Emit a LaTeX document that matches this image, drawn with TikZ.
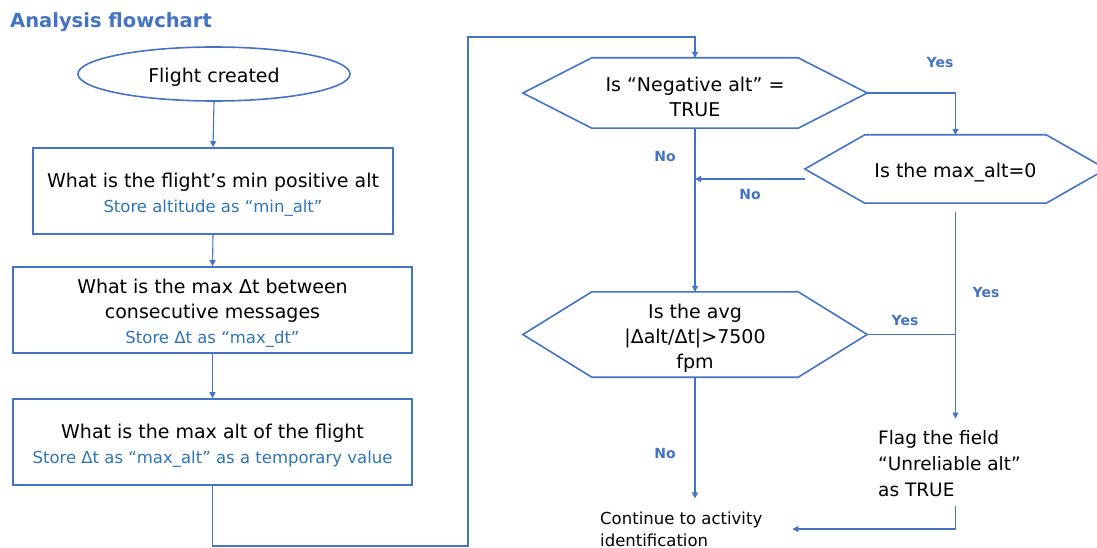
\documentclass[tikz,border=0pt]{standalone}
\usepackage{fontspec}
\setmainfont{DejaVu Sans}
\usetikzlibrary{arrows.meta,shapes.geometric}
\definecolor{lineblue}{RGB}{68,114,196}
\definecolor{subblue}{RGB}{46,117,182}
\definecolor{labblue}{RGB}{68,114,196}
\newcommand\mainfnt{\fontsize{19}{25}\selectfont}
\newcommand\subfnt{\fontsize{16.5}{25}\selectfont\color{subblue}}
\newcommand\lifttxt{\rule{0pt}{21.5pt}}
\newcommand\drawhex[2]{\draw[hexline] ([xshift=#2]#1.north west) -- ([xshift=-#2]#1.north east) -- (#1.east) -- ([xshift=-#2]#1.south east) -- ([xshift=#2]#1.south west) -- (#1.west) -- cycle;}
\begin{document}
\begin{tikzpicture}[x=1pt,y=-1pt,
  boxnode/.style={draw=lineblue, line width=1.6pt, inner sep=0pt, align=center, font=\mainfnt, minimum height=86pt},
  hexnode/.style={inner sep=0pt, align=center, font=\mainfnt},
  hexline/.style={draw=lineblue, line width=1.6pt},
  arr/.style={draw=lineblue, line width=1.1pt, -{Triangle[length=6pt,width=6pt]}},
  conn/.style={draw=lineblue, line width=1.1pt},
  lab/.style={font=\fontsize{14}{16}\selectfont\bfseries, text=labblue, inner sep=0pt}]
\useasboundingbox (0,0) rectangle (1097,548);

\node[font=\fontsize{19.5}{22}\selectfont\bfseries, text=lineblue, anchor=base west, inner sep=0pt] (title) at (10,28) {Analysis flowchart};

\node[ellipse, draw=lineblue, line width=1.6pt, minimum width=272pt, minimum height=54pt, inner sep=0pt, font=\mainfnt] (e) at (214,74) {\lifttxt Flight created};

\node[boxnode, minimum width=360pt] (b1) at (213,191) {\lifttxt What is the flight’s min positive alt\\{\subfnt Store altitude as “min\_alt”}};
\node[boxnode, minimum width=399pt] (b2) at (212.5,310) {\lifttxt What is the max Δt between\\consecutive messages\\{\subfnt Store Δt as “max\_dt”}};
\node[boxnode, minimum width=399pt] (b3) at (212.5,442) {\lifttxt What is the max alt of the flight\\{\subfnt Store Δt as “max\_alt” as a temporary value}};

\node[hexnode, minimum width=344pt, minimum height=70pt] (d1) at (695,93) {\lifttxt Is “Negative alt” =\\TRUE};
\drawhex{d1}{69pt}
\node[hexnode, minimum width=301pt, minimum height=68pt] (d2) at (955.5,169) {\lifttxt Is the max\_alt=0};
\drawhex{d2}{60pt}
\node[hexnode, minimum width=344pt, minimum height=85pt] (d3) at (695,334.5) {\lifttxt Is the avg\\|Δalt/Δt|>7500\\fpm};
\drawhex{d3}{69pt}

\node[anchor=west, align=left, inner sep=4pt, font=\fontsize{18.5}{26}\selectfont] (f) at (874,464) {Flag the field\\“Unreliable alt”\\as TRUE};
\node[anchor=west, align=left, inner sep=4pt, font=\fontsize{16.5}{22}\selectfont] (c) at (596,529) {Continue to activity\\identification};

\coordinate (j1) at (468,546);
\coordinate (j2) at (468,37);
\coordinate (fin) at ([yshift=8pt]f.north);
\coordinate (fout) at ([yshift=-5pt]f.south);
\coordinate (cin) at ([xshift=26pt]c.east);
\coordinate (cn) at ([yshift=9pt]c.north);

\draw[arr] (e.south) -- (b1.north);
\draw[arr] (b1.south) -- (b2.north);
\draw[arr] (b2.south) -- (b3.north);
\draw[arr] (b3.south) |- (j1) -- (j2) -| (d1.north);
\draw[arr] (d1.east) -| (d2.north);
\draw[arr] ([yshift=-10pt]d2.west) -- ([yshift=-10pt]d2.west -| d1.south);
\draw[arr] (d1.south) -- (d3.north);
\draw[conn] (d3.east) -- (d3.east -| d2.south);
\draw[arr] ([yshift=-9pt]d2.south) -- (d2.south |- fin);
\draw[arr] (d2.south |- fout) |- (cin);
\draw[arr] (d3.south) -- (d3.south |- cn);

\node[lab] (y1) at (940,62) {Yes};
\node[lab] (n1) at (665,156) {No};
\node[lab] (n2) at (750,194) {No};
\node[lab] (y2) at (905,320) {Yes};
\node[lab] (y3) at (986,292) {Yes};
\node[lab] (n3) at (665,453) {No};
\end{tikzpicture}
\end{document}
